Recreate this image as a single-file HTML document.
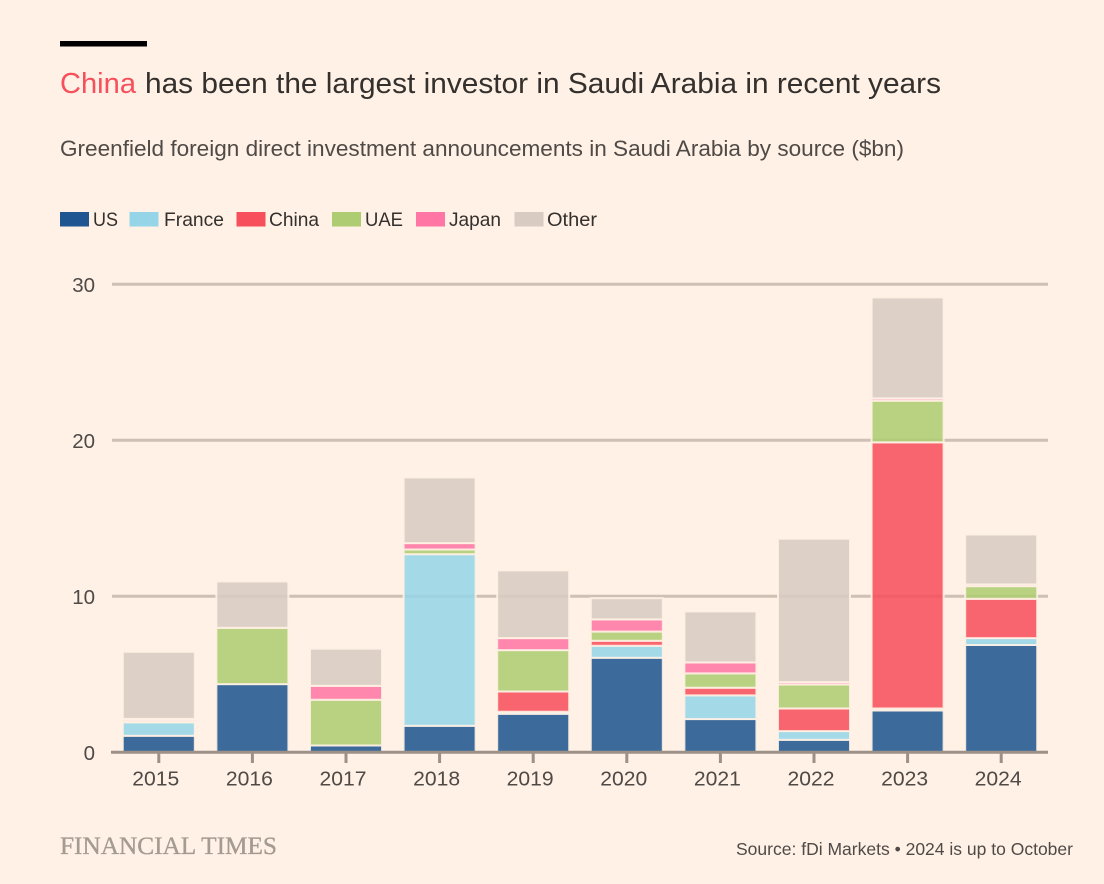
<!DOCTYPE html>
<html lang="en">
<head>
<meta charset="utf-8">
<title>China has been the largest investor in Saudi Arabia in recent years</title>
<style>
html,body{margin:0;padding:0;background:#fff1e5;width:1104px;height:884px;overflow:hidden}
svg{display:block}
text{font-family:"Liberation Sans",sans-serif}
</style>
</head>
<body>
<svg id="chart" width="1104" height="884" viewBox="0 0 1104 884" xmlns="http://www.w3.org/2000/svg">
  <rect width="1104" height="884" fill="#fff1e5"/>
  <rect x="60" y="41" width="87" height="5.5" fill="#000"/>
  <text x="60" y="93" font-size="28.5" fill="#f74f5c" textLength="76" lengthAdjust="spacingAndGlyphs">China</text>
  <text x="145" y="93" font-size="28.5" fill="#33302e" textLength="796" lengthAdjust="spacingAndGlyphs">has been the largest investor in Saudi Arabia in recent years</text>
  <text x="60" y="156" font-size="22" fill="#4f4a47" textLength="844" lengthAdjust="spacingAndGlyphs">Greenfield foreign direct investment announcements in Saudi Arabia by source ($bn)</text>

  <g id="legend">
    <g><rect x="60" y="212" width="29" height="14.5" fill="#1f5590"/><text x="93" y="226" font-size="19.5" fill="#33302e" textLength="25" lengthAdjust="spacingAndGlyphs">US</text></g>
    <g><rect x="129.5" y="212" width="29" height="14.5" fill="#96d5e8"/><text x="164" y="226" font-size="19.5" fill="#33302e" textLength="60" lengthAdjust="spacingAndGlyphs">France</text></g>
    <g><rect x="236.5" y="212" width="29" height="14.5" fill="#f74f5c"/><text x="269" y="226" font-size="19.5" fill="#33302e" textLength="50" lengthAdjust="spacingAndGlyphs">China</text></g>
    <g><rect x="332" y="212" width="29" height="14.5" fill="#aecd72"/><text x="365" y="226" font-size="19.5" fill="#33302e" textLength="38" lengthAdjust="spacingAndGlyphs">UAE</text></g>
    <g><rect x="416" y="212" width="29" height="14.5" fill="#ff75a3"/><text x="449" y="226" font-size="19.5" fill="#33302e" textLength="52" lengthAdjust="spacingAndGlyphs">Japan</text></g>
    <g><rect x="514.5" y="212" width="29" height="14.5" fill="#d8cbc2"/><text x="547" y="226" font-size="19.5" fill="#33302e" textLength="50" lengthAdjust="spacingAndGlyphs">Other</text></g>
  </g>

  <g id="grid"></g>
  <g id="yLabels"></g>
  <g id="bars"></g>
  <g id="xAxis"></g>

  <text x="60" y="854" font-size="25.5" fill="#a49b91" stroke="#a49b91" stroke-width="0.35" textLength="217" lengthAdjust="spacingAndGlyphs" style="font-family:'Liberation Serif',serif">FINANCIAL TIMES</text>
  <text x="736" y="855" font-size="17.5" fill="#4f4a47" textLength="337" lengthAdjust="spacingAndGlyphs">Source: fDi Markets • 2024 is up to October</text>
</svg>
<script>
const categories = ["2015","2016","2017","2018","2019","2020","2021","2022","2023","2024"];
const yTicks = [0,10,20,30];
const usValues     = [1.06,4.37,0.44,1.70,2.47,6.06,2.13,0.80,2.68,6.88];
const franceValues = [0.86,0,0,11.00,0.13,0.77,1.52,0.56,0.13,0.44];
const chinaValues  = [0,0,0,0,1.30,0.32,0.49,1.45,17.06,2.52];
const uaeValues    = [0.11,3.61,2.93,0.30,2.65,0.59,0.92,1.54,2.67,0.81];
const japanValues  = [0.11,0,0.89,0.41,0.77,0.78,0.70,0.15,0.15,0.11];
const otherValues  = [4.30,2.97,2.38,4.21,4.34,1.36,3.27,9.19,6.47,3.20];
const seriesNames  = ["us","france","china","uae","japan","other"];
const seriesColors = ["#1f5590","#96d5e8","#f74f5c","#aecd72","#ff75a3","#d8cbc2"];
const seriesValues = [usValues,franceValues,chinaValues,uaeValues,japanValues,otherValues];

const NS = "http://www.w3.org/2000/svg";
const plotLeft = 112, plotRight = 1048, plotBottom = 752.3, plotTop = 284.3, yMax = 30;
const bandWidth = (plotRight - plotLeft) / categories.length;
const barWidth = 72;
function xScale(i){ return plotLeft + (i + 0.5) * bandWidth; }
function yScale(v){ return plotBottom - (v / yMax) * (plotBottom - plotTop); }

const grid = document.getElementById("grid");
const yLabels = document.getElementById("yLabels");
yTicks.forEach(function(t){
  if (t !== 0) {
    const line = document.createElementNS(NS, "line");
    
    
    line.setAttribute("x1", plotLeft);
    line.setAttribute("x2", plotRight);
    line.setAttribute("y1", yScale(t));
    line.setAttribute("y2", yScale(t));
    line.setAttribute("stroke", "#cdc0b5");
    line.setAttribute("stroke-width", "3");
    grid.appendChild(line);
  }
  const label = document.createElementNS(NS, "text");
  
  
  label.setAttribute("x", 95);
  label.setAttribute("y", yScale(t) + 7.5);
  label.setAttribute("text-anchor", "end");
  label.setAttribute("font-size", "20.5");
  label.setAttribute("fill", "#4f4a47");
  label.textContent = t;
  yLabels.appendChild(label);
});

const bars = document.getElementById("bars");
categories.forEach(function(cat, i){
  let base = 0;
  seriesValues.forEach(function(vals, s){
    const v = vals[i];
    if (v > 0) {
      const rect = document.createElementNS(NS, "rect");
      
      
      rect.setAttribute("x", xScale(i) - barWidth / 2);
      rect.setAttribute("y", yScale(base + v));
      rect.setAttribute("width", barWidth);
      rect.setAttribute("height", yScale(base) - yScale(base + v));
      rect.setAttribute("fill", seriesColors[s]);
      rect.setAttribute("fill-opacity", "0.87");
      rect.setAttribute("stroke", "#fff1e5");
      rect.setAttribute("stroke-opacity", "0.88");
      rect.setAttribute("stroke-width", "2");
      bars.appendChild(rect);
    }
    base += v;
  });
});

const xAxis = document.getElementById("xAxis");
const axisLine = document.createElementNS(NS, "line");


axisLine.setAttribute("x1", 111);
axisLine.setAttribute("x2", plotRight);
axisLine.setAttribute("y1", plotBottom);
axisLine.setAttribute("y2", plotBottom);
axisLine.setAttribute("stroke", "#9c9087");
axisLine.setAttribute("stroke-width", "3");
xAxis.appendChild(axisLine);
categories.forEach(function(cat, i){
  const tick = document.createElementNS(NS, "line");
  
  
  tick.setAttribute("x1", xScale(i));
  tick.setAttribute("x2", xScale(i));
  tick.setAttribute("y1", plotBottom);
  tick.setAttribute("y2", 763);
  tick.setAttribute("stroke", "#9c9087");
  tick.setAttribute("stroke-width", "3");
  xAxis.appendChild(tick);
  const label = document.createElementNS(NS, "text");
  
  
  label.setAttribute("x", xScale(i) - 3);
  label.setAttribute("y", 785.5);
  label.setAttribute("text-anchor", "middle");
  label.setAttribute("font-size", "20.5");
  label.setAttribute("fill", "#4f4a47");
  label.setAttribute("textLength", "47");
  label.setAttribute("lengthAdjust", "spacingAndGlyphs");
  label.textContent = cat;
  xAxis.appendChild(label);
});
</script>
</body>
</html>
